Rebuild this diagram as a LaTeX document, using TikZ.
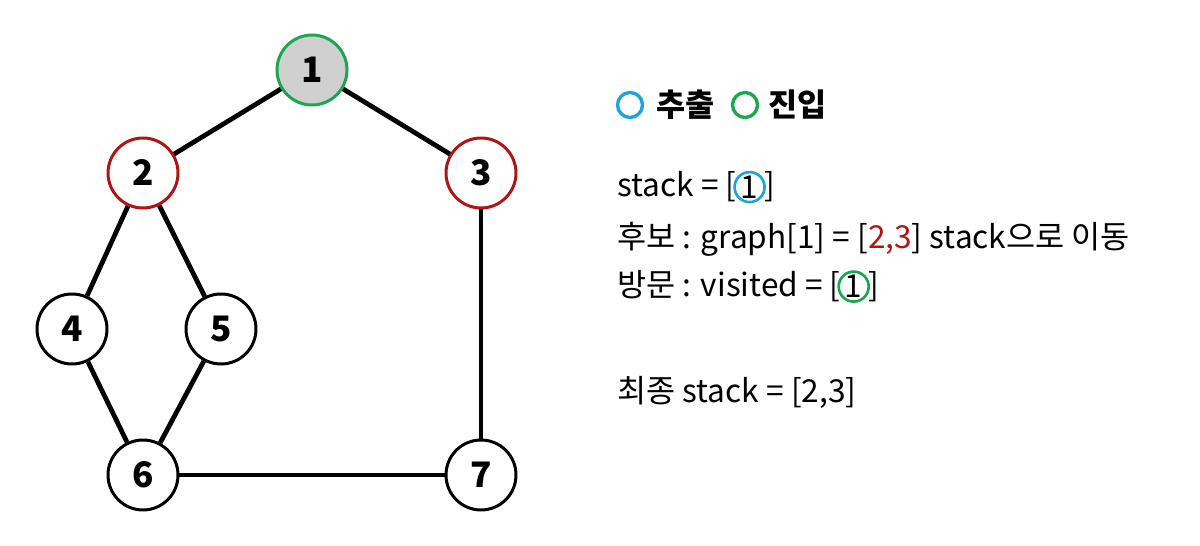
\documentclass[tikz,border=0pt]{standalone}
\usepackage{fontspec}
\setmainfont{Noto Sans CJK KR}
\usepackage{tikz}

\definecolor{pushred}{HTML}{B01515}
\definecolor{popblue}{HTML}{1DA3E2}
\definecolor{ingreen}{HTML}{1BA650}
\definecolor{visitgray}{HTML}{D0D0D0}

\begin{document}
\begin{tikzpicture}[x=0.02cm,y=-0.02cm,
    vertex/.style={circle,draw,line width=1.7pt,minimum size=1.4cm,inner sep=0pt,
      font=\fontsize{20}{24}\selectfont\bfseries},
    edge/.style={line width=2.7pt},
    txt/.style={anchor=base west,inner sep=0pt,font=\fontsize{18}{22}\selectfont},
    legtxt/.style={anchor=west,inner sep=0pt,font=\fontsize{18}{22}\selectfont\bfseries},
    legring/.style={circle,draw,line width=1.9pt,minimum size=0.5cm,inner sep=0pt},
    numring/.style={circle,draw,line width=1.5pt,minimum size=0.6cm,inner sep=0pt,
      font=\fontsize{18}{22}\selectfont}]
  \useasboundingbox (0,0) rectangle (1200,546);

  % graph vertices
  \node[vertex,draw=ingreen,fill=visitgray] (n1) at (312,70) {1};
  \node[vertex,draw=pushred] (n2) at (143,173) {2};
  \node[vertex,draw=pushred] (n3) at (481,173) {3};
  \node[vertex] (n4) at (72,329) {4};
  \node[vertex] (n5) at (221,329) {5};
  \node[vertex] (n6) at (143,475) {6};
  \node[vertex] (n7) at (481,475) {7};

  % edges
  \draw[edge] (n1) -- (n2);
  \draw[edge] (n1) -- (n3);
  \draw[edge] (n2) -- (n4);
  \draw[edge] (n2) -- (n5);
  \draw[edge] (n4) -- (n6);
  \draw[edge] (n5) -- (n6);
  \draw[edge] (n3) -- (n7);
  \draw[edge] (n6) -- (n7);

  % legend
  \node[legring,draw=popblue] (popleg) at (630,105) {};
  \node[legtxt] (poptxt) at (656,105) {추출};
  \node[legring,draw=ingreen] (inleg) at (745,105) {};
  \node[legtxt] (intxt) at (768,105) {진입};

  % stack line
  \node[txt] (stk) at (617,197) {stack = [};
  \node[numring,draw=popblue,anchor=west] (stkone) at ([xshift=-2pt]stk.east) {1};
  \node[txt] (stkend) at ([xshift=-1pt]stkone.east |- stk.base) {]};

  % candidates line
  \node[txt] (cand) at (617,249) {후보 : graph[1] = [\textcolor{pushred}{2,3}] stack으로 이동};

  % visited line
  \node[txt] (vis) at (617,297) {방문 : visited = [};
  \node[numring,draw=ingreen,anchor=west] (visone) at ([xshift=-2pt]vis.east) {1};
  \node[txt] (visend) at ([xshift=-1pt]visone.east |- vis.base) {]};

  % final stack
  \node[txt] (final) at (617,403) {최종 stack = [2,3]};
\end{tikzpicture}
\end{document}
